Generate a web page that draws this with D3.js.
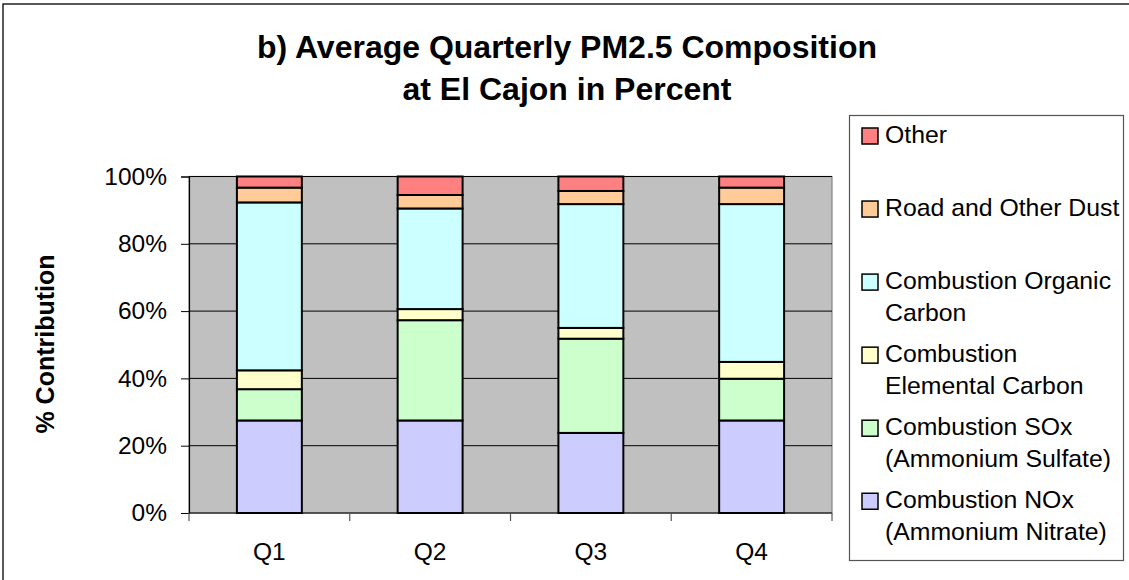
<!DOCTYPE html>
<html>
<head>
<meta charset="utf-8">
<script src="https://cdn.jsdelivr.net/npm/d3@7"></script>
<style>
  body { margin: 0; background: #fff; }
  svg { font-family: "Liberation Sans", Arial, sans-serif; }
</style>
</head>
<body>
<div id="chart"></div>
<script>
// quarter labels
const quarters = ["Q1", "Q2", "Q3", "Q4"];

// series, bottom to top (percent of total)
const noxValues   = [27.5, 27.5, 23.8, 27.5];
const soxValues   = [9.3, 29.8, 28.0, 12.4];
const ecValues    = [5.6, 3.3, 3.2, 5.0];
const ocValues    = [49.9, 29.9, 36.8, 46.9];
const dustValues  = [4.4, 4.0, 3.9, 4.9];
const otherValues = [3.3, 5.5, 4.3, 3.3];

const seriesKeys = ["nox", "sox", "ec", "oc", "dust", "other"];
const seriesLabels = {
  nox: ["Combustion NOx", "(Ammonium Nitrate)"],
  sox: ["Combustion SOx", "(Ammonium Sulfate)"],
  ec: ["Combustion", "Elemental Carbon"],
  oc: ["Combustion Organic", "Carbon"],
  dust: ["Road and Other Dust"],
  other: ["Other"]
};
const seriesColors = ["#CCCCFF", "#CCFFCC", "#FFFFCC", "#CCFFFF", "#FFCC99", "#FF8080"];

const yTicks = [0, 20, 40, 60, 80, 100];

// build table for d3.stack
const table = quarters.map((q, i) => ({
  quarter: q,
  nox: noxValues[i], sox: soxValues[i], ec: ecValues[i],
  oc: ocValues[i], dust: dustValues[i], other: otherValues[i]
}));

const width = 1129, height = 580;
const margin = { top: 176.5, right: 297, bottom: 67, left: 189 };
const innerW = width - margin.left - margin.right;
const innerH = height - margin.top - margin.bottom;

const svg = d3.select("#chart").append("svg")
    .attr("width", width)
    .attr("height", height);

// outer frame
svg.append("rect")
    .attr("x", 3).attr("y", 4)
    .attr("width", width + 20).attr("height", height + 20)
    .attr("fill", "none").attr("stroke", "#000").attr("stroke-width", 1.3);

// title
const title = svg.append("text")
    .attr("text-anchor", "middle")
    .attr("font-size", 32)
    .attr("font-weight", "bold");
title.append("tspan").attr("x", 567).attr("y", 58).text("b) Average Quarterly PM2.5 Composition");
title.append("tspan").attr("x", 567).attr("y", 100).text("at El Cajon in Percent");

const x = d3.scaleBand()
    .domain(quarters)
    .range([0, innerW])
    .paddingInner(0.596)
    .paddingOuter(0.298);

const y = d3.scaleLinear()
    .domain([0, 100])
    .range([innerH, 0]);

const color = d3.scaleOrdinal().domain(seriesKeys).range(seriesColors);

const g = svg.append("g").attr("transform", `translate(${margin.left},${margin.top})`);

// plot background
g.append("rect")
    .attr("width", innerW).attr("height", innerH)
    .attr("fill", "#C0C0C0")
    .attr("stroke", "#808080").attr("stroke-width", 1.2);

// gridlines
g.append("g")
    .selectAll("line")
    .data(yTicks.slice(1))
    .join("line")
    .attr("x1", 0).attr("x2", innerW)
    .attr("y1", d => y(d)).attr("y2", d => y(d))
    .attr("stroke", "#000").attr("stroke-width", 1);

// stacked bars
const stacked = d3.stack().keys(seriesKeys)(table);
g.append("g")
    .selectAll("g")
    .data(stacked)
    .join("g")
    .attr("fill", d => color(d.key))
    .selectAll("rect")
    .data(d => d)
    .join("rect")
    .attr("x", d => x(d.data.quarter))
    .attr("width", x.bandwidth())
    .attr("y", d => y(d[1]))
    .attr("height", d => y(d[0]) - y(d[1]))
    .attr("stroke", "#000").attr("stroke-width", 2);

// y axis
const yAxis = g.append("g")
    .call(d3.axisLeft(y).tickValues(yTicks).tickFormat(d => d + "%").tickSize(8).tickPadding(14));
yAxis.select(".domain").attr("stroke", "#000").attr("stroke-width", 1.2);
yAxis.selectAll(".tick line").attr("stroke", "#000");
yAxis.selectAll("text").attr("font-size", 24.5).attr("fill", "#000")
    .attr("font-family", "Liberation Sans, Arial, sans-serif");

// x axis, ticks between categories
const xAxis = g.append("g").attr("transform", `translate(0,${innerH})`);
xAxis.append("line").attr("x1", 0).attr("x2", innerW).attr("stroke", "#000").attr("stroke-width", 1.2);
xAxis.selectAll("line.tk")
    .data(d3.range(quarters.length + 1))
    .join("line")
    .attr("class", "tk")
    .attr("x1", d => d * x.step()).attr("x2", d => d * x.step())
    .attr("y1", 0).attr("y2", 8)
    .attr("stroke", "#555").attr("stroke-width", 1.2);
xAxis.selectAll("text")
    .data(quarters)
    .join("text")
    .attr("x", d => x(d) + x.bandwidth() / 2)
    .attr("y", 47)
    .attr("text-anchor", "middle")
    .attr("font-size", 24.5)
    .text(d => d);

// y axis title
svg.append("text")
    .attr("transform", "translate(54,344) rotate(-90)")
    .attr("text-anchor", "middle")
    .attr("font-size", 25)
    .attr("font-weight", "bold")
    .text("% Contribution");

// legend
const legend = svg.append("g");
legend.append("rect")
    .attr("x", 849.5).attr("y", 115.5)
    .attr("width", 274).attr("height", 445)
    .attr("fill", "#fff").attr("stroke", "#555").attr("stroke-width", 1.2);

const legendKeys = seriesKeys.slice().reverse();
const item = legend.selectAll("g.item")
    .data(legendKeys)
    .join("g")
    .attr("class", "item")
    .attr("transform", (d, i) => `translate(862,${143 + i * 73.05})`);

item.append("rect")
    .attr("x", 0).attr("y", -15)
    .attr("width", 16).attr("height", 16)
    .attr("fill", d => color(d))
    .attr("stroke", "#000").attr("stroke-width", 1.5);

item.append("text")
    .attr("font-size", 24.8)
    .selectAll("tspan")
    .data(d => seriesLabels[d])
    .join("tspan")
    .attr("x", 23)
    .attr("y", (d, i) => i * 31.7)
    .text(d => d);
</script>
</body>
</html>
